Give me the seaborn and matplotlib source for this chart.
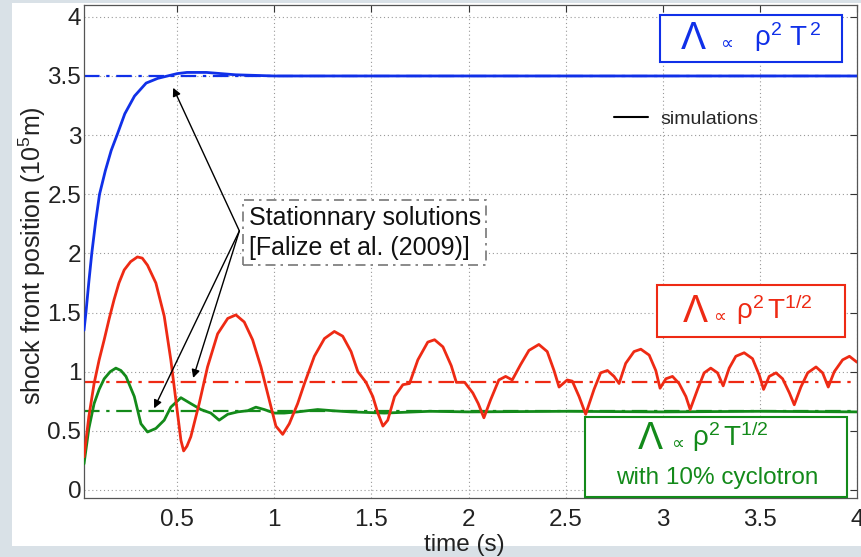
import numpy as np
import pandas as pd
import matplotlib
matplotlib.use("Agg")
import matplotlib.pyplot as plt
import seaborn as sns
from matplotlib.patches import Rectangle
from matplotlib.lines import Line2D

# ---------------- data ----------------
blue_t = [0.02, 0.03, 0.045, 0.06, 0.08, 0.10, 0.13, 0.16, 0.19, 0.23, 0.28, 0.34, 0.40, 0.45, 0.50,
          0.55, 0.65, 0.80, 1.00, 4.00]
blue_y = [1.35, 1.50, 1.76, 2.00, 2.27, 2.50, 2.70, 2.87, 3.00, 3.18, 3.33, 3.44, 3.48, 3.50, 3.52,
          3.53, 3.53, 3.51, 3.50, 3.50]

red_t = [0.02, 0.045, 0.072, 0.098, 0.124, 0.15, 0.175, 0.2, 0.227, 0.26, 0.295, 0.32, 0.347, 0.39,
         0.433, 0.467, 0.493, 0.519, 0.533, 0.55, 0.57, 0.613, 0.656, 0.708, 0.76, 0.802, 0.845,
         0.888, 0.931, 0.974, 1.008, 1.043, 1.077, 1.12, 1.155, 1.206, 1.258, 1.309, 1.352, 1.395,
         1.43, 1.472, 1.507, 1.533, 1.559, 1.584, 1.619, 1.662, 1.696, 1.739, 1.79, 1.825, 1.868,
         1.911, 1.937, 1.98, 2.022, 2.05, 2.079, 2.113, 2.156, 2.191, 2.225, 2.268, 2.311, 2.362,
         2.405, 2.44, 2.466, 2.508, 2.534, 2.569, 2.603, 2.646, 2.68, 2.715, 2.749, 2.775, 2.809,
         2.852, 2.887, 2.93, 2.964, 2.986, 3.016, 3.05, 3.084, 3.119, 3.141, 3.179, 3.213, 3.247,
         3.282, 3.311, 3.342, 3.376, 3.419, 3.462, 3.497, 3.519, 3.548, 3.583, 3.617, 3.652, 3.677,
         3.711, 3.746, 3.789, 3.823, 3.852, 3.883, 3.926, 3.961, 4.0]
red_y = [0.28, 0.62, 0.90, 1.10, 1.27, 1.45, 1.61, 1.75, 1.86, 1.93, 1.97, 1.96, 1.90, 1.75,
         1.47, 1.10, 0.76, 0.42, 0.33, 0.37, 0.45, 0.73, 1.04, 1.32, 1.45, 1.48, 1.42,
         1.27, 1.04, 0.76, 0.54, 0.47, 0.56, 0.73, 0.90, 1.13, 1.28, 1.34, 1.30, 1.17,
         1.00, 0.91, 0.79, 0.65, 0.54, 0.59, 0.79, 0.89, 0.90, 1.10, 1.25, 1.27, 1.21,
         1.05, 0.91, 0.91, 0.82, 0.73, 0.61, 0.76, 0.93, 0.96, 0.93, 1.06, 1.18, 1.23,
         1.17, 1.01, 0.87, 0.93, 0.92, 0.79, 0.64, 0.85, 0.99, 1.01, 0.96, 0.90, 1.07,
         1.17, 1.19, 1.14, 1.01, 0.86, 0.94, 0.96, 0.90, 0.79, 0.68, 0.85, 0.99, 1.03,
         0.99, 0.88, 1.03, 1.13, 1.16, 1.11, 0.97, 0.85, 0.96, 0.99, 0.94, 0.82, 0.72,
         0.87, 0.99, 1.04, 0.99, 0.87, 1.00, 1.10, 1.13, 1.08]

green_t = [0.02, 0.045, 0.072, 0.098, 0.124, 0.155, 0.184, 0.21, 0.236, 0.279, 0.313, 0.347, 0.39,
           0.433, 0.467, 0.519, 0.57, 0.622, 0.673, 0.716, 0.76, 0.811, 0.863, 0.905, 0.948, 1.0,
           1.051, 1.12, 1.223, 1.3, 1.395, 1.567, 1.8, 2.0, 2.5, 3.0, 3.5, 4.0]
green_y = [0.22, 0.52, 0.73, 0.85, 0.94, 1.00, 1.03, 1.01, 0.96, 0.79, 0.56, 0.49, 0.52,
           0.59, 0.70, 0.78, 0.73, 0.68, 0.65, 0.59, 0.64, 0.66, 0.67, 0.70, 0.68, 0.65,
           0.65, 0.66, 0.68, 0.67, 0.66, 0.65, 0.665, 0.66, 0.665, 0.66, 0.665, 0.66]

stationary_levels = [3.50, 0.91, 0.665]
x_ticks = [0.5, 1, 1.5, 2, 2.5, 3, 3.5, 4]
y_ticks = [0, 0.5, 1, 1.5, 2, 2.5, 3, 3.5, 4]
y_tick_labels = ["0", "0.5", "1", "1.5", "2", "2.5", "3", "3.5", "4"]
x_tick_labels = ["0.5", "1", "1.5", "2", "2.5", "3", "3.5", "4"]

BLUE = "#1030e8"
RED = "#ee2a14"
GREEN = "#138a1a"

# ---------------- style ----------------
sns.set_style("white")
plt.rcParams["font.family"] = ["Liberation Sans", "DejaVu Sans"]
plt.rcParams["mathtext.fontset"] = "custom"
plt.rcParams["mathtext.rm"] = "Liberation Sans"
plt.rcParams["mathtext.it"] = "Liberation Sans:italic"
plt.rcParams["mathtext.sf"] = "Liberation Sans"

W, H = 861, 557
fig = plt.figure(figsize=(W / 100, H / 100), dpi=100)
fig.patch.set_facecolor("#d9e1e7")
fig.patches.append(Rectangle((12 / W, 1 - 546 / H), (W - 12) / W, (546 - 3) / H,
                             transform=fig.transFigure, facecolor="white",
                             edgecolor="none", zorder=-5))


def fp(x, y):
    return (x / W, 1 - y / H)


ax = fig.add_axes([84 / W, 1 - 498 / H, 773 / W, 493 / H])
ax.set_facecolor("white")

df_b = pd.DataFrame({"t": blue_t, "y": blue_y})
df_r = pd.DataFrame({"t": red_t, "y": red_y})
df_g = pd.DataFrame({"t": green_t, "y": green_y})

for lvl, col in zip(stationary_levels, [BLUE, RED, GREEN]):
    ax.axhline(lvl, color=col, lw=1.6, ls=(0, (7, 3, 1.5, 3)), zorder=2)

line_kw = dict(lw=2.0, solid_joinstyle="round", solid_capstyle="round")
sns.lineplot(data=df_g, x="t", y="y", color=GREEN, ax=ax, zorder=3, **line_kw)
sns.lineplot(data=df_r, x="t", y="y", color=RED, ax=ax, zorder=3, **line_kw)
sns.lineplot(data=df_b, x="t", y="y", color=BLUE, ax=ax, zorder=3, **line_kw)

ax.set_xlim(0.02, 4.0)
ax.set_ylim(-0.068, 4.10)
ax.set_xticks(x_ticks)
ax.set_xticklabels(x_tick_labels)
ax.set_yticks(y_ticks)
ax.set_yticklabels(y_tick_labels)
ax.tick_params(direction="in", length=5, width=0.8, labelsize=17.5, top=True, right=True,
               colors="#333333", labelcolor="#222222")
ax.tick_params(axis="y", pad=2)
ax.tick_params(axis="x", pad=8)
ax.grid(True, ls=(0, (1, 2.5)), color="#999999", lw=0.8)
for s in ax.spines.values():
    s.set_color("#555555")
    s.set_linewidth(0.9)

ax.set_xlabel("time (s)", fontsize=17.5, color="#222222")
ax.xaxis.set_label_coords((464 - 84) / 773, -(545 - 498) / 493)
ax.xaxis.label.set_va("center")
ax.set_ylabel(r"shock front position (10$^5$m)", fontsize=18, color="#222222")
ax.yaxis.set_label_coords((32 - 84) / 773, 1 - (256 - 5) / 493)
ax.yaxis.label.set_va("center")

# simulations legend
leg = ax.legend(handles=[Line2D([], [], color="black", lw=1.5)], labels=["simulations"],
                frameon=False, fontsize=14, loc="center left",
                bbox_to_anchor=((597 - 84) / 773, 1 - (119 - 5) / 493),
                handlelength=1.7, handletextpad=0.65)

# annotation box
ax.text(0.868, 2.175, "Stationnary solutions\n[Falize et al. (2009)]", fontsize=18,
        va="center", ha="left", linespacing=1.3, color="#111111", zorder=6,
        bbox=dict(boxstyle="square,pad=0.22", facecolor="white", edgecolor="#777777",
                  lw=1.2, ls=(0, (6, 3, 1.5, 3))))
src = (0.82, 2.19)
for tip in [(0.479, 3.40), (0.381, 0.69), (0.582, 0.947)]:
    ax.annotate("", xy=tip, xytext=src,
                arrowprops=dict(arrowstyle="-|>", color="black", lw=1.0,
                                mutation_scale=12, shrinkA=0, shrinkB=0), zorder=6)

# colored label boxes
def box(x0, y0, x1, y1, col):
    fig.patches.append(Rectangle(fp(x0, y1), (x1 - x0) / W, (y1 - y0) / H,
                                 transform=fig.transFigure, facecolor="white",
                                 edgecolor=col, lw=1.5, zorder=5))


def label(cx, cy, col, txt, dprop, drho):
    fig.text(*fp(cx, cy + 1), "Λ", color=col, fontsize=27, ha="center", va="center", zorder=7)
    fig.text(*fp(cx + dprop, cy + 6), "∝", color=col, fontsize=13, ha="center", va="center",
             family="DejaVu Sans", zorder=7)
    fig.text(*fp(cx + drho, cy - 1), txt, color=col, fontsize=20,
             ha="left", va="center", zorder=7)


box(660, 15, 842, 62, BLUE)
label(693, 38, BLUE, "ρ$^2$ T$^{\\,2}$", 33, 61)

box(657, 285, 845, 337, RED)
label(695, 311, RED, "ρ$^2$$\\,$T$^{1/2}$", 24, 41)

box(585, 417, 847, 497, GREEN)
label(650, 438, GREEN, "ρ$^2$$\\,$T$^{1/2}$", 27, 42)
fig.text(*fp(717, 478), "with 10% cyclotron", color=GREEN, fontsize=17.5, ha="center", va="center", zorder=7)

fig.savefig("out.png", dpi=100, facecolor=fig.get_facecolor())
